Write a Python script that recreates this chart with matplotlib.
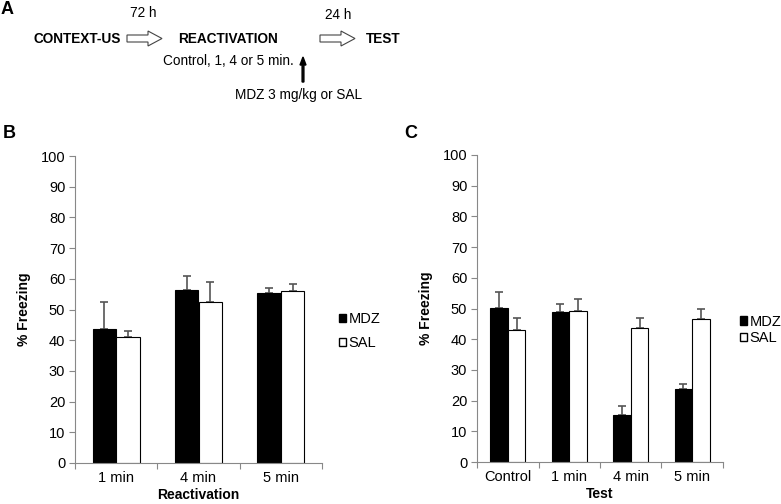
import matplotlib
matplotlib.use('Agg')
import matplotlib.pyplot as plt
import numpy as np
from matplotlib.patches import FancyArrow, Patch

plt.rcParams['font.family'] = ['Liberation Sans', 'DejaVu Sans']

# data
react_cats = ['1 min', '4 min', '5 min']
react_mdz = [43.5, 56.3, 55.3]
react_mdz_err = [9.0, 4.7, 1.7]
react_sal = [41.0, 52.5, 56.0]
react_sal_err = [2.0, 6.5, 2.3]

test_cats = ['Control', '1 min', '4 min', '5 min']
test_mdz = [50.3, 49.0, 15.2, 23.7]
test_mdz_err = [5.2, 2.5, 3.0, 1.8]
test_sal = [43.0, 49.3, 43.8, 46.5]
test_sal_err = [3.8, 3.7, 3.0, 3.3]

W, H = 781, 504
fig = plt.figure(figsize=(W / 100, H / 100), dpi=100)

# panel A: schematic drawn in pixel coordinates
top = fig.add_axes([0, 0, 1, 1])
top.set_xlim(0, W)
top.set_ylim(H, 0)
top.axis('off')

top.text(1, 10, 'A', fontsize=13, fontweight='bold', va='center')
top.text(3, 134, 'B', fontsize=13, fontweight='bold', va='center')
top.text(404, 134, 'C', fontsize=13, fontweight='bold', va='center')

top.text(33, 39, 'CONTEXT-US', fontsize=9.8, fontweight='bold', va='center')
top.text(143, 13, '72 h', fontsize=9.8, ha='center', va='center')
top.text(228, 39, 'REACTIVATION', fontsize=9.8, fontweight='bold', va='center', ha='center')
top.text(228, 61, 'Control, 1, 4 or 5 min.', fontsize=9.8, va='center', ha='center')
top.text(338, 15, '24 h', fontsize=9.8, ha='center', va='center')
top.text(366, 39, 'TEST', fontsize=9.8, fontweight='bold', va='center')
top.text(299, 95, 'MDZ 3 mg/kg or SAL', fontsize=9.8, va='center', ha='center')

for x0 in [127, 320]:
    top.add_patch(FancyArrow(x0, 38.5, 35, 0, width=7, head_width=15, head_length=14,
                             length_includes_head=True, facecolor='white',
                             edgecolor='#444444', linewidth=0.8))
top.add_patch(FancyArrow(303, 82, 0, -25, width=1.8, head_width=6, head_length=8,
                         length_includes_head=True, color='black'))


def bar_panel(rect, cats, mdz, mdz_err, sal, sal_err, xlabel, leg_y, leg_sp):
    ax = fig.add_axes(rect)
    n = len(cats)
    x = np.arange(n) + 0.5
    w = 0.285
    ax.bar(x - w / 2, mdz, w, color='black', edgecolor='black', linewidth=0.8, zorder=2)
    ax.bar(x + w / 2, sal, w, color='white', edgecolor='black', linewidth=0.8, zorder=2)
    ax.errorbar(x - w / 2, mdz, yerr=[np.zeros(n), mdz_err], fmt='none',
                ecolor='#555555', elinewidth=1.2, capsize=3, capthick=1.2, zorder=1)
    ax.errorbar(x + w / 2, sal, yerr=[np.zeros(n), sal_err], fmt='none',
                ecolor='#555555', elinewidth=1.2, capsize=3, capthick=1.2, zorder=1)
    ax.set_xlim(0, n)
    ax.set_ylim(0, 100)
    ax.set_yticks(range(0, 101, 10))
    ax.set_xticks(np.arange(n + 1))
    ax.set_xticklabels([])
    ax.set_xticks(x, minor=True)
    ax.set_xticklabels(cats, minor=True)
    ax.tick_params(axis='x', which='minor', length=0, pad=6, labelsize=10.5)
    ax.tick_params(axis='x', which='major', length=4, color='#888888')
    ax.tick_params(axis='y', length=4, color='#888888', labelsize=10.5, pad=3)
    for s in ['top', 'right']:
        ax.spines[s].set_visible(False)
    for s in ['left', 'bottom']:
        ax.spines[s].set_color('#888888')
    ax.set_ylabel('% Freezing', fontsize=10, fontweight='bold', labelpad=7)
    ax.set_xlabel(xlabel, fontsize=10, fontweight='bold', labelpad=2)
    handles = [Patch(facecolor='black', edgecolor='black', label='MDZ'),
               Patch(facecolor='white', edgecolor='black', label='SAL')]
    ax.legend(handles=handles, loc='center left', frameon=False, fontsize=10.5,
              bbox_to_anchor=(1.04, leg_y), handlelength=0.5, handleheight=0.5,
              handletextpad=0.15, labelspacing=leg_sp, borderpad=0)
    return ax


bar_panel([75 / W, 1 - 463 / H, 247 / W, 307 / H], react_cats, react_mdz, react_mdz_err,
          react_sal, react_sal_err, 'Reactivation', 0.43, 0.7)
bar_panel([477 / W, 1 - 462 / H, 246 / W, 307 / H], test_cats, test_mdz, test_mdz_err,
          test_sal, test_sal_err, 'Test', 0.43, 0.2)

fig.savefig('out.png', dpi=100)
